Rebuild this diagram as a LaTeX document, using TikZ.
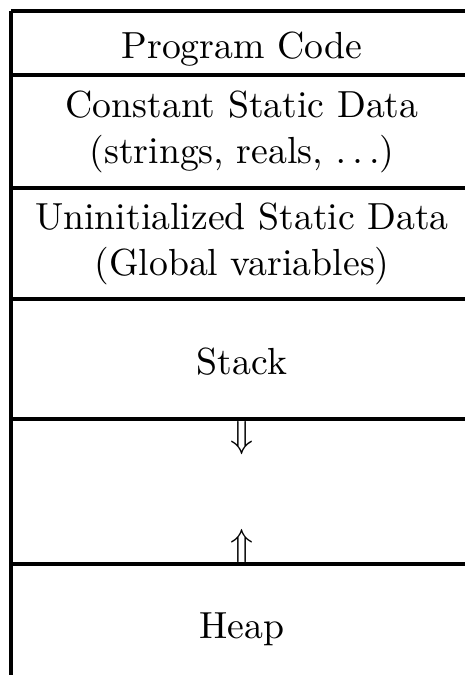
\documentclass[tikz,border=0pt]{standalone}
\usetikzlibrary{calc}
\tikzset{
  wall/.style={line width=0.95pt},
  seg/.style={align=center, inner sep=0pt},
}
\begin{document}
\begin{tikzpicture}[x=0.265pt, y=0.265pt]
		%%%%% START %%%%%
		\useasboundingbox (0, 0) rectangle (465, 675);
		
		\draw[wall] (11, 0) -- (11, 664);
		\foreach \h in {664, 600, 487, 376, 256, 111}
			\draw[wall] (11, \h) -- (473, \h);
		
		\node[seg] (code) at (242, 626) {Program Code};
		\node[seg] (const) at (242, 543) {Constant Static Data\\(strings, reals, $\ldots$)};
		\node[seg] (uninit) at (242, 431) {Uninitialized Static Data\\(Global variables)};
		\node[seg] (stack) at (242, 313) {Stack};
		
		\node[seg] (down) at (242, 237) {$\Downarrow$};
		\node[seg] (up) at (242, 129) {$\Uparrow$};
		
		\node[seg] (heap) at (242, 46) {Heap};
		
		%%%%% END %%%%%
\end{tikzpicture}
\end{document}
